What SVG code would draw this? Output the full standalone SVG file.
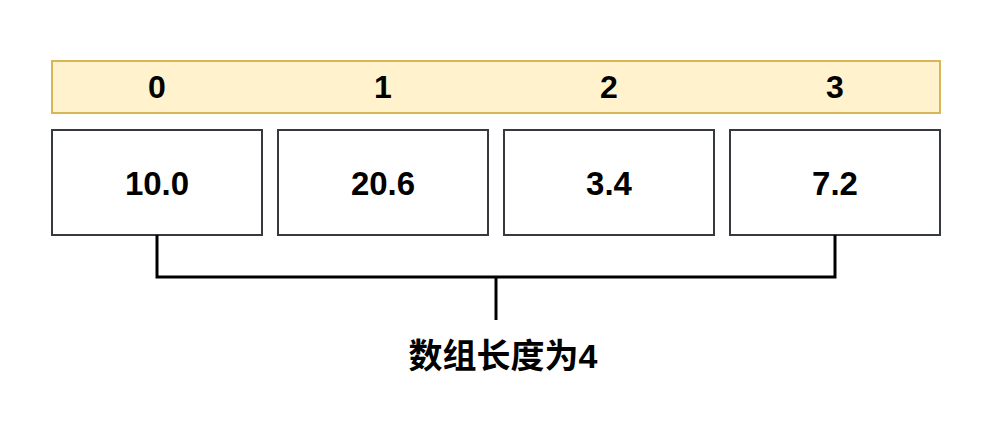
<svg xmlns="http://www.w3.org/2000/svg" width="1000" height="425" viewBox="0 0 1000 425">
<style>
.t{font-family:"Liberation Sans","Noto Sans CJK SC",Arial,sans-serif;font-weight:bold;font-size:32px;fill:#000;text-anchor:middle;dominant-baseline:central}
.v{font-size:33px}
.cell{fill:#fff;stroke:#36393d;stroke-width:2}
.hdr{fill:#fff2cc;stroke:#d6b656;stroke-width:2}
.ln{fill:none;stroke:#000;stroke-width:3}
</style>
<rect width="1000" height="425" fill="#fff"/>
<g id="header">
<rect class="hdr" x="52" y="61" width="888" height="52"/>
<text class="t" x="157" y="87">0</text>
<text class="t" x="383" y="87">1</text>
<text class="t" x="609" y="87">2</text>
<text class="t" x="835" y="87">3</text>
</g>
<g id="cell0"><rect class="cell" x="52" y="130" width="210" height="105"/><text class="t v" x="157" y="183">10.0</text></g>
<g id="cell1"><rect class="cell" x="278" y="130" width="210" height="105"/><text class="t v" x="383" y="183">20.6</text></g>
<g id="cell2"><rect class="cell" x="504" y="130" width="210" height="105"/><text class="t v" x="609" y="183">3.4</text></g>
<g id="cell3"><rect class="cell" x="730" y="130" width="210" height="105"/><text class="t v" x="835" y="183">7.2</text></g>
<g id="connectors">
<path class="ln" d="M157 235 V277 H835 V235"/>
<path class="ln" d="M496 277 V320"/>
</g>
<g id="label"><text class="t" x="503" y="356" style="font-size:34px">数组长度为4</text></g>
</svg>
